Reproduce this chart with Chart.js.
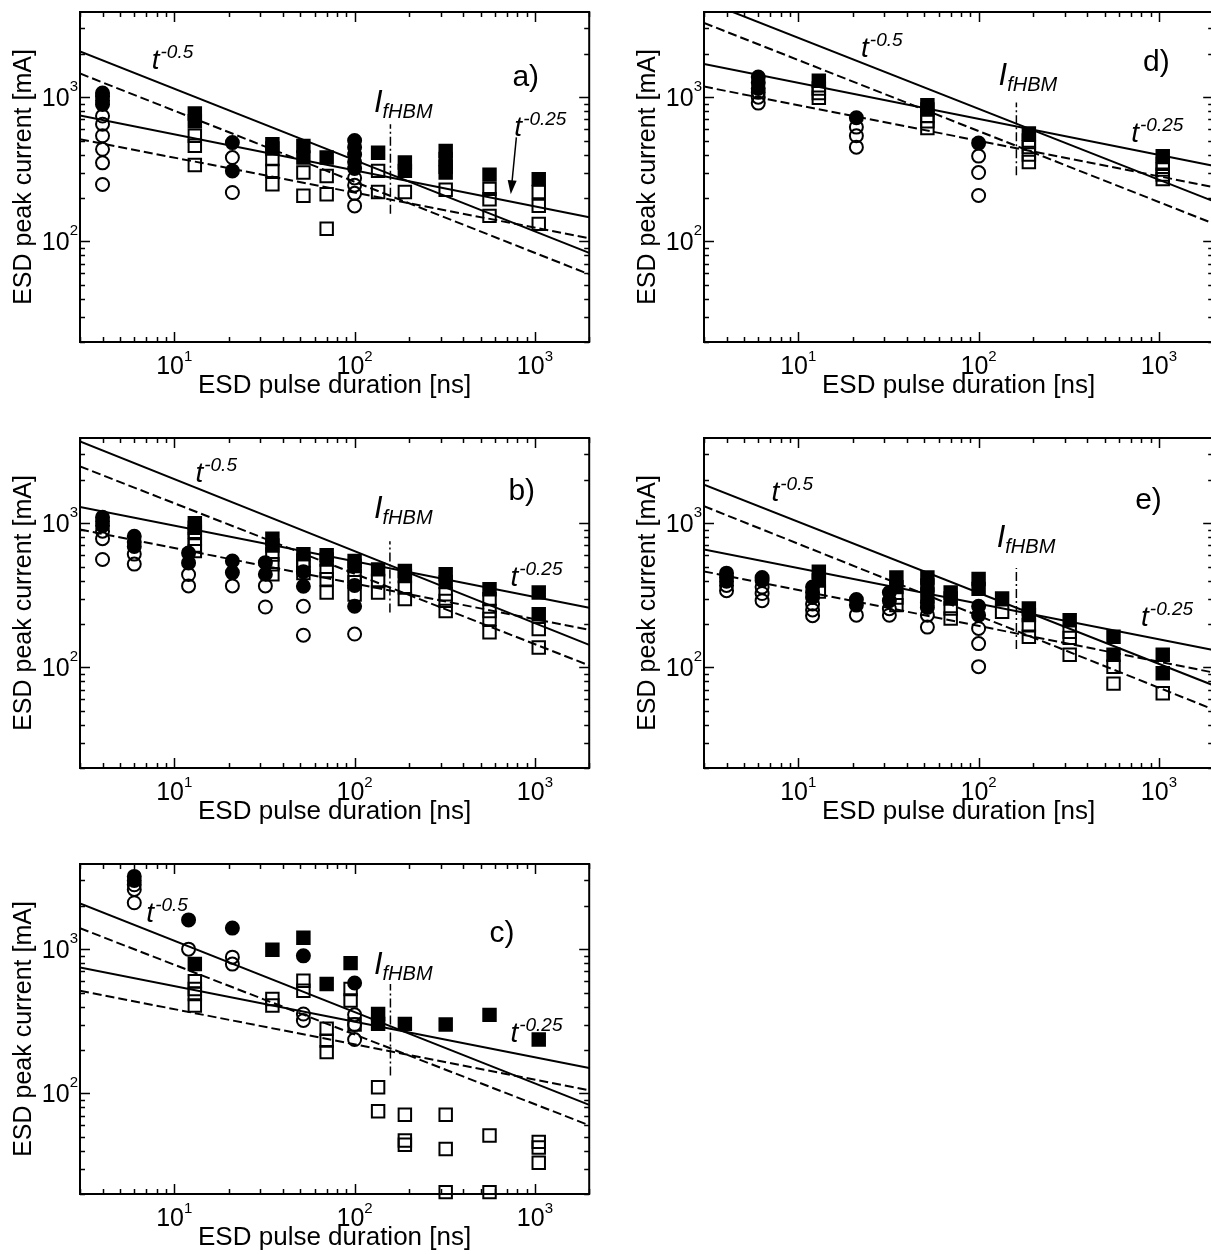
<!DOCTYPE html>
<html>
<head>
<meta charset="utf-8">
<script src="https://cdn.jsdelivr.net/npm/chart.js@4.4.1/dist/chart.umd.min.js"></script>
<style>
  html, body { margin: 0; padding: 0; background: #fff; overflow: hidden; width: 1211px; height: 1254px; position: relative; }
  canvas { position: absolute; }
</style>
</head>
<body>
<canvas id="pa" width="600" height="402" style="left:0;top:0"></canvas>
<canvas id="pd" width="600" height="402" style="left:624px;top:0"></canvas>
<canvas id="pb" width="600" height="402" style="left:0;top:426px"></canvas>
<canvas id="pe" width="600" height="402" style="left:624px;top:426px"></canvas>
<canvas id="pc" width="600" height="402" style="left:0;top:852px"></canvas>
<script>
// endpoints of the fitted power laws (x at the left and right edges)
const fitX = [3, 2000];
const xTickLabels = [10, 100, 1000];
const yTickLabels = [100, 1000];

// ---- panel a ----
const aFilledCircle = [[4,1070],[4,1010],[4,950],[4,890],[21,484],[21,308],[100,500],[100,450],[100,400],[100,355],[100,320]];
const aOpenCircle = [[4,740],[4,650],[4,540],[4,435],[4,350],[4,248],[21,381],[21,218],[100,275],[100,245],[100,215],[100,176]];
const aFilledSquare = [[13,770],[13,680],[35,472],[35,440],[52,459],[52,381],[70,381],[135,412],[190,352],[190,308],[320,424],[320,372],[320,329],[320,300],[560,290],[1050,270]];
const aOpenSquare = [[13,540],[13,460],[13,338],[35,372],[35,308],[35,249],[52,300],[52,207],[70,284],[70,212],[70,122],[135,308],[135,220],[190,220],[320,228],[560,231],[560,196],[560,150],[1050,220],[1050,176],[1050,132]];
const aSteepSolid = [2080, 83];
const aSteepDash = [1459, 59];
const aFlatSolid = [747, 147];
const aFlatDash = [510, 105];
const aFhbm = [158, 155, 650];

// ---- panel b ----
const bFilledCircle = [[4,1100],[4,1030],[4,960],[6,810],[6,740],[6,690],[12,620],[12,530],[21,546],[21,454],[32,532],[32,442],[52,460],[52,365],[100,370],[100,265]];
const bOpenCircle = [[4,880],[4,780],[4,560],[6,610],[6,520],[12,440],[12,367],[21,367],[32,367],[32,262],[52,265],[52,167],[100,170]];
const bFilledSquare = [[13,1000],[13,930],[35,780],[35,700],[52,610],[70,600],[70,560],[100,546],[100,504],[135,478],[190,466],[190,430],[320,442],[320,390],[560,348],[1050,330],[1050,233]];
const bOpenSquare = [[13,870],[13,780],[13,700],[13,640],[35,607],[35,518],[35,442],[52,550],[52,500],[52,450],[70,466],[70,408],[70,330],[100,430],[100,390],[100,320],[135,397],[135,330],[190,357],[190,297],[320,321],[320,289],[320,246],[560,297],[560,246],[560,216],[560,175],[1050,184],[1050,137]];
const bSteepSolid = [3690, 143];
const bSteepDash = [2478, 103];
const bFlatSolid = [1297, 259];
const bFlatDash = [904, 182];
const bFhbm = [157, 240, 750];

// ---- panel c ----
const cFilledCircle = [[6,3200],[6,3000],[12,1597],[21,1400],[52,899],[100,582]];
const cOpenCircle = [[6,2800],[6,2600],[6,2100],[12,1000],[21,880],[21,788],[52,355],[52,320],[100,350],[100,300],[100,236]];
const cFilledSquare = [[13,788],[35,990],[52,1200],[70,573],[95,800],[135,355],[135,303],[190,303],[320,300],[560,350],[1050,236]];
const cOpenSquare = [[13,600],[13,530],[13,489],[13,406],[35,451],[35,406],[52,604],[52,515],[70,280],[70,232],[70,193],[95,529],[95,440],[100,300],[135,110],[135,75],[190,71],[190,47],[190,44],[320,71],[320,41],[320,20.6],[560,51],[560,20.6],[1050,46],[1050,42],[1050,33]];
const cSteepSolid = [2080, 83];
const cSteepDash = [1397, 60];
const cFlatSolid = [747, 150];
const cFlatDash = [515, 105];
const cFhbm = [158, 133, 573];

// ---- panel d ----
const dFilledCircle = [[6,1380],[6,1260],[6,1150],[21,720],[100,480]];
const dOpenCircle = [[6,1080],[6,1000],[6,910],[21,620],[21,540],[21,450],[100,390],[100,300],[100,208]];
const dFilledSquare = [[13,1300],[52,880],[52,820],[190,560],[1050,390]];
const dOpenSquare = [[13,1150],[13,1070],[13,990],[52,740],[52,680],[52,610],[190,500],[190,450],[190,400],[190,355],[1050,345],[1050,315],[1050,290],[1050,270]];
const dSteepSolid = [4670, 190];
const dSteepDash = [3275, 133];
const dFlatSolid = [1699, 334];
const dFlatDash = [1184, 238];
const dFhbm = [162, 287, 920];

// ---- panel e ----
const eFilledCircle = [[4,450],[4,420],[4,395],[6.3,420],[6.3,400],[12,360],[12,330],[12,305],[21,295],[21,270],[32,330],[32,290],[52,280],[52,260],[100,265],[100,230]];
const eOpenCircle = [[4,370],[4,340],[6.3,360],[6.3,325],[6.3,290],[12,275],[12,250],[12,228],[21,230],[32,255],[32,230],[52,230],[52,190],[100,186],[100,146],[100,101]];
const eFilledSquare = [[13,460],[13,400],[35,420],[35,360],[52,420],[52,370],[52,320],[70,330],[70,300],[100,410],[100,350],[135,300],[190,256],[190,230],[320,212],[560,163],[560,122],[1050,122],[1050,91]];
const eOpenSquare = [[13,335],[35,305],[35,270],[70,256],[70,218],[135,243],[190,196],[190,163],[320,176],[320,160],[320,122],[560,101],[560,77],[1050,66]];
const eSteepSolid = [1850, 75];
const eSteepDash = [1312, 51];
const eFlatSolid = [658, 132];
const eFlatDash = [463, 92];
const eFhbm = [162, 134, 489];

const FONT = '"Liberation Sans", Arial, Helvetica, sans-serif';

const isDecade = v => Math.abs(Math.log10(v) - Math.round(Math.log10(v))) < 1e-9;

// minor/major tick values of a log axis between lo and hi
function logTicks(lo, hi) {
    const out = [];
    for (let e = Math.floor(Math.log10(lo)); e <= Math.ceil(Math.log10(hi)); e++) {
        for (let m = 1; m < 10; m++) {
            const v = m * Math.pow(10, e);
            if (v >= lo * 0.999 && v <= hi * 1.001) out.push(v);
        }
    }
    return out;
}

// frame, inward ticks on all four sides and 10^n tick labels
const frameTicks = {
    id: 'frameTicks',
    afterDatasetsDraw(chart) {
        const { ctx, chartArea: a, scales: { x, y } } = chart;
        ctx.save();
        ctx.strokeStyle = '#000';
        ctx.lineWidth = 1.5;
        ctx.beginPath();
        logTicks(x.min, x.max).forEach(v => {
            const px = Math.round(x.getPixelForValue(v)) + 0.5;
            const len = isDecade(v) ? 10 : 5;
            ctx.moveTo(px, a.bottom); ctx.lineTo(px, a.bottom - len);
            ctx.moveTo(px, a.top); ctx.lineTo(px, a.top + len);
        });
        logTicks(y.min, y.max).forEach(v => {
            const py = Math.round(y.getPixelForValue(v)) + 0.5;
            const len = isDecade(v) ? 10 : 5;
            ctx.moveTo(a.left, py); ctx.lineTo(a.left + len, py);
            ctx.moveTo(a.right, py); ctx.lineTo(a.right - len, py);
        });
        ctx.stroke();
        ctx.lineWidth = 2;
        ctx.strokeRect(a.left, a.top, a.right - a.left, a.bottom - a.top);

        ctx.fillStyle = '#000';
        ctx.textBaseline = 'alphabetic';
        ctx.textAlign = 'left';
        const big = `25px ${FONT}`, small = `15px ${FONT}`;
        const measure = (t, f) => { ctx.font = f; return ctx.measureText(t).width; };
        x.ticks.forEach(t => {
            const exp = String(Math.round(Math.log10(t.value)));
            const w1 = measure('10', big), w2 = measure(exp, small);
            const x0 = x.getPixelForValue(t.value) - (w1 + w2) / 2;
            ctx.font = big; ctx.fillText('10', x0, a.bottom + 32);
            ctx.font = small; ctx.fillText(exp, x0 + w1, a.bottom + 19);
        });
        y.ticks.forEach(t => {
            const exp = String(Math.round(Math.log10(t.value)));
            const w1 = measure('10', big), w2 = measure(exp, small);
            const py = y.getPixelForValue(t.value);
            const x0 = a.left - 2 - w1 - w2;
            ctx.font = big; ctx.fillText('10', x0, py + 9);
            ctx.font = small; ctx.fillText(exp, x0 + w1, py - 6);
        });
        ctx.restore();
    }
};

// t^n labels, panel letter, I_fHBM label and the arrow of panel a
const notes = {
    id: 'notes',
    afterDraw(chart, args, opts) {
        const { ctx, scales: { x, y } } = chart;
        const P = (vx, vy) => [x.getPixelForValue(vx), y.getPixelForValue(vy)];
        ctx.save();
        ctx.fillStyle = '#000';
        ctx.textBaseline = 'alphabetic';
        ctx.textAlign = 'left';
        opts.powers.forEach(([vx, vy, exp]) => {
            const [px, py] = P(vx, vy);
            ctx.font = `italic 28px ${FONT}`;
            ctx.fillText('t', px, py);
            const w = ctx.measureText('t').width;
            ctx.font = `italic 19px ${FONT}`;
            ctx.fillText(exp, px + w + 1, py - 11);
        });
        {
            const [px, py] = P(opts.letter[0], opts.letter[1]);
            ctx.font = `30px ${FONT}`;
            ctx.fillText(opts.letter[2], px, py);
        }
        {
            const [px, py] = P(opts.fhbm[0], opts.fhbm[1]);
            ctx.font = `italic 31px ${FONT}`;
            ctx.fillText('I', px, py - 2);
            const w = ctx.measureText('I').width;
            ctx.font = `italic 20px ${FONT}`;
            ctx.fillText('fHBM', px + w, py + 4);
        }
        if (opts.arrow) {
            const [x0, y0] = P(opts.arrow[0], opts.arrow[1]);
            const [x1, y1] = P(opts.arrow[2], opts.arrow[3]);
            const ang = Math.atan2(y1 - y0, x1 - x0);
            ctx.strokeStyle = '#000';
            ctx.lineWidth = 1.5;
            ctx.beginPath();
            ctx.moveTo(x0, y0);
            ctx.lineTo(x1 - 10 * Math.cos(ang), y1 - 10 * Math.sin(ang));
            ctx.stroke();
            ctx.beginPath();
            ctx.moveTo(x1, y1);
            ctx.lineTo(x1 - 14 * Math.cos(ang) + 4.5 * Math.sin(ang), y1 - 14 * Math.sin(ang) - 4.5 * Math.cos(ang));
            ctx.lineTo(x1 - 14 * Math.cos(ang) - 4.5 * Math.sin(ang), y1 - 14 * Math.sin(ang) + 4.5 * Math.cos(ang));
            ctx.closePath();
            ctx.fill();
        }
        ctx.restore();
    }
};

const toXY = arr => arr.map(([x, y]) => ({ x, y }));

function markers(data, style, filled) {
    return {
        data: toXY(data),
        pointStyle: style,
        pointRadius: style === 'circle' ? 6.5 : 8.8,
        borderWidth: 2,
        borderColor: '#000',
        backgroundColor: filled ? '#000' : 'rgba(0,0,0,0)',
        clip: false
    };
}

function fitLine(vals, dash) {
    return {
        data: fitX.map((x, i) => ({ x, y: vals[i] })),
        showLine: true,
        pointRadius: 0,
        borderColor: '#000',
        borderWidth: 2,
        borderDash: dash,
        fill: false
    };
}

function fhbmLine([xv, y0, y1]) {
    return {
        data: [{ x: xv, y: y0 }, { x: xv, y: y1 }],
        showLine: true,
        pointRadius: 0,
        borderColor: '#000',
        borderWidth: 1.5,
        borderDash: [9, 3, 2, 3],
        fill: false
    };
}

function makePanel(id, p) {
    new Chart(document.getElementById(id), {
        type: 'scatter',
        data: {
            datasets: [
                markers(p.fc, 'circle', true),
                markers(p.oc, 'circle', false),
                markers(p.fs, 'rect', true),
                markers(p.os, 'rect', false),
                fitLine(p.steepSolid, []),
                fitLine(p.steepDash, [9, 4]),
                fitLine(p.flatSolid, []),
                fitLine(p.flatDash, [9, 4]),
                fhbmLine(p.fhbm)
            ]
        },
        options: {
            responsive: false,
            animation: false,
            events: [],
            layout: { padding: { top: 12, right: 8, left: 0, bottom: 0 } },
            plugins: {
                legend: { display: false },
                tooltip: { enabled: false },
                notes: p.notes
            },
            scales: {
                x: {
                    type: 'logarithmic',
                    min: 3,
                    max: 2000,
                    grid: { display: false, drawTicks: false },
                    border: { display: false },
                    afterBuildTicks: s => { s.ticks = xTickLabels.map(v => ({ value: v })); },
                    afterFit: s => { s.height = 60; },
                    ticks: { display: false },
                    title: {
                        display: true,
                        text: 'ESD pulse duration [ns]',
                        color: '#000',
                        font: { family: FONT, size: 26 },
                        padding: { top: 0, bottom: 1 }
                    }
                },
                y: {
                    type: 'logarithmic',
                    min: 20,
                    max: 3900,
                    grid: { display: false, drawTicks: false },
                    border: { display: false },
                    afterBuildTicks: s => { s.ticks = yTickLabels.map(v => ({ value: v })); },
                    afterFit: s => { s.width = 80; },
                    ticks: { display: false },
                    title: {
                        display: true,
                        text: 'ESD peak current [mA]',
                        color: '#000',
                        font: { family: FONT, size: 25 },
                        padding: { top: 9, bottom: 0 }
                    }
                }
            }
        },
        plugins: [frameTicks, notes]
    });
}

makePanel('pa', {
    fc: aFilledCircle, oc: aOpenCircle, fs: aFilledSquare, os: aOpenSquare,
    steepSolid: aSteepSolid, steepDash: aSteepDash, flatSolid: aFlatSolid, flatDash: aFlatDash, fhbm: aFhbm,
    notes: { powers: [[7.5, 1580, '-0.5'], [769, 535, '-0.25']], letter: [750, 1186, 'a)'], fhbm: [128, 759], arrow: [789, 526, 735, 212] }
});
makePanel('pb', {
    fc: bFilledCircle, oc: bOpenCircle, fs: bFilledSquare, os: bOpenSquare,
    steepSolid: bSteepSolid, steepDash: bSteepDash, flatSolid: bFlatSolid, flatDash: bFlatDash, fhbm: bFhbm,
    notes: { powers: [[13.1, 1941, '-0.5'], [731, 365, '-0.25']], letter: [713, 1459, 'b)'], fhbm: [128, 1060] }
});
makePanel('pc', {
    fc: cFilledCircle, oc: cOpenCircle, fs: cFilledSquare, os: cOpenSquare,
    steepSolid: cSteepSolid, steepDash: cSteepDash, flatSolid: cFlatSolid, flatDash: cFlatDash, fhbm: cFhbm,
    notes: { powers: [[7.0, 1555, '-0.5'], [731, 226, '-0.25']], letter: [560, 1130, 'c)'], fhbm: [128, 647] }
});
makePanel('pd', {
    fc: dFilledCircle, oc: dOpenCircle, fs: dFilledSquare, os: dOpenSquare,
    steepSolid: dSteepSolid, steepDash: dSteepDash, flatSolid: dFlatSolid, flatDash: dFlatDash, fhbm: dFhbm,
    notes: { powers: [[22.3, 1900, '-0.5'], [702, 491, '-0.25']], letter: [817, 1520, 'd)'], fhbm: [129, 1178] }
});
makePanel('pe', {
    fc: eFilledCircle, oc: eOpenCircle, fs: eFilledSquare, os: eOpenSquare,
    steepSolid: eSteepSolid, steepDash: eSteepDash, flatSolid: eFlatSolid, flatDash: eFlatDash, fhbm: eFhbm,
    notes: { powers: [[7.1, 1426, '-0.5'], [796, 192, '-0.25']], letter: [738, 1256, 'e)'], fhbm: [126, 664] }
});
</script>
</body>
</html>
